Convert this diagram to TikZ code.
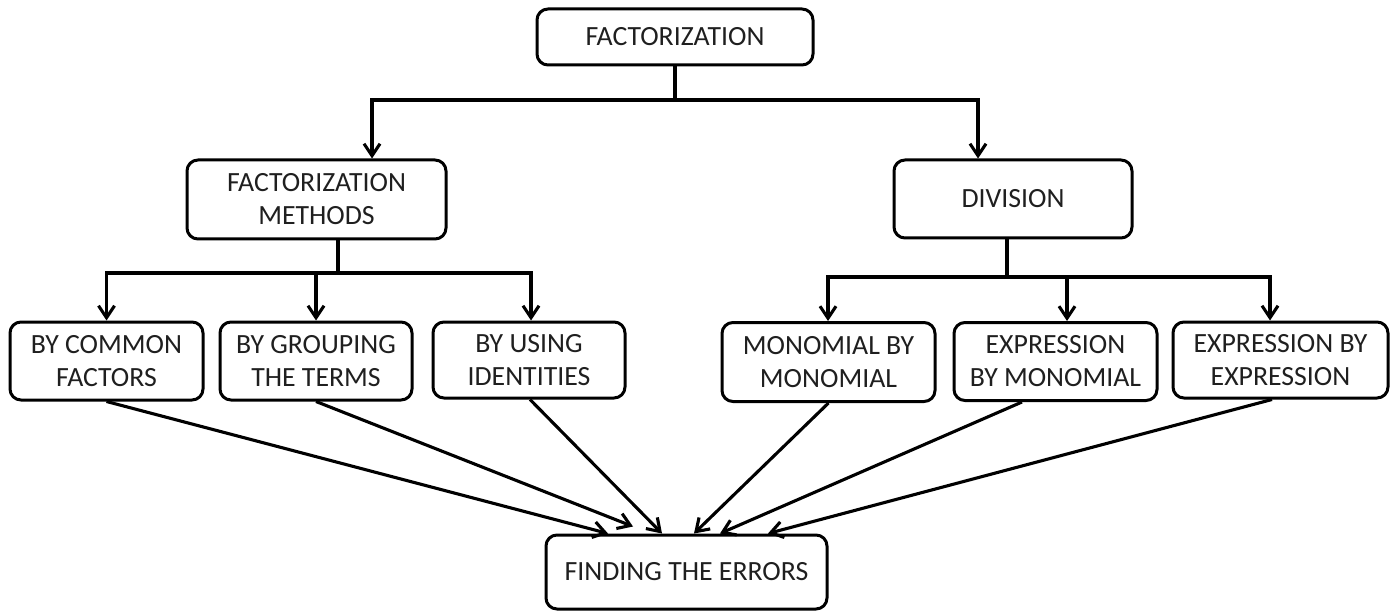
\documentclass[tikz,border=0pt]{standalone}
\usepackage{fontspec}
\setmainfont{Carlito}
\usetikzlibrary{arrows.meta}
\begin{document}
\begin{tikzpicture}[x=1pt,y=-1pt,
  box/.style={draw, line width=3pt, rounded corners=11pt, align=center,
    inner sep=0pt, text=black!88, font=\fontsize{27.8}{33}\selectfont},
  link/.style={line width=3.1pt},
  arrowlink/.style={link, -{Straight Barb[length=12pt,width=16pt]}}]
\useasboundingbox (0,0) rectangle (1397,612);

% boxes
\node[box, minimum width=276, minimum height=56] (fact) at (675,37) {FACTORIZATION};
\node[box, minimum width=259, minimum height=79] (fm) at (316.5,199.5) {FACTORIZATION\\METHODS};
\node[box, minimum width=238, minimum height=78] (div) at (1013,199) {DIVISION};
\node[box, minimum width=193, minimum height=78] (bcf) at (106.5,361) {BY COMMON\\FACTORS};
\node[box, minimum width=192, minimum height=78] (bgt) at (316,361) {BY GROUPING\\THE TERMS};
\node[box, minimum width=192, minimum height=76] (bui) at (529,360) {BY USING\\IDENTITIES};
\node[box, minimum width=213, minimum height=79] (mbm) at (828.5,362) {MONOMIAL BY\\MONOMIAL};
\node[box, minimum width=203, minimum height=78] (ebm) at (1055.5,361.5) {EXPRESSION\\BY MONOMIAL};
\node[box, minimum width=215, minimum height=76] (ebe) at (1280.5,360) {EXPRESSION BY\\EXPRESSION};
\node[box, minimum width=281, minimum height=74] (fte) at (686.5,572) {FINDING THE ERRORS};

% branch junctions
\coordinate (j0) at (675,100);
\coordinate (j1) at (338,273);
\coordinate (j2) at (1007,277);

% top level
\draw[link] (fact.south) -- (j0);
\draw[arrowlink] (j0) -| ([xshift=55.5]fm.north);
\draw[arrowlink] (j0) -| ([xshift=-35]div.north);

% factorization methods
\draw[link] (fm.south -| j1) -- (j1);
\draw[arrowlink] (j1) -| (bcf.north);
\draw[arrowlink] (j1) -| (bgt.north);
\draw[arrowlink] (j1) -| ([xshift=2]bui.north);

% division
\draw[link] (div.south -| j2) -- (j2);
\draw[arrowlink] (j2) -| ([xshift=-0.5]mbm.north);
\draw[arrowlink] (j2) -| ([xshift=11.5]ebm.north);
\draw[arrowlink] (j2) -| ([xshift=-10.5]ebe.north);

% converging links
\draw[arrowlink] (bcf.south) -- ([xshift=-78.5]fte.north);
\draw[arrowlink] (bgt.south) -- ([xshift=-53.5,yshift=7]fte.north);
\draw[arrowlink] ([xshift=1]bui.south) -- ([xshift=-24.5]fte.north);
\draw[arrowlink] (mbm.south) -- ([xshift=7.5]fte.north);
\draw[arrowlink] ([xshift=-33.5]ebm.south) -- ([xshift=33.5]fte.north);
\draw[arrowlink] ([xshift=-8.5]ebe.south) -- ([xshift=81.5]fte.north);
\end{tikzpicture}
\end{document}
